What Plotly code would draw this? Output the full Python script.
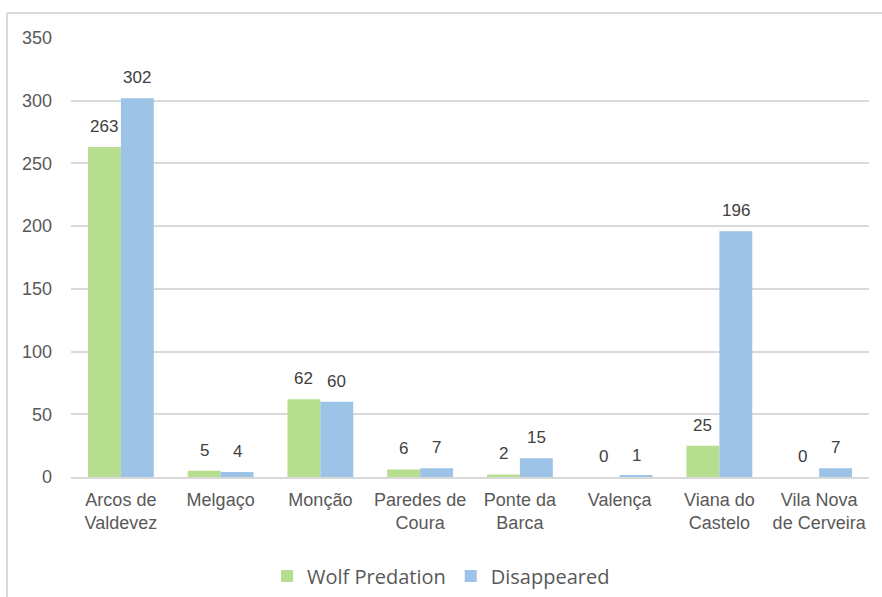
import plotly.graph_objects as go

categories = ["Arcos de<br>Valdevez", "Melgaço", "Monção", "Paredes de<br>Coura",
              "Ponte da<br>Barca", "Valença", "Viana do<br>Castelo", "Vila Nova<br>de Cerveira"]
wolf_predation = [263, 5, 62, 6, 2, 0, 25, 0]
disappeared = [302, 4, 60, 7, 15, 1, 196, 7]

W, H = 882, 597
L, R, T, B = 71, 13, 38, 120
green = "#B7DE8E"
blue = "#9DC3E6"
label_font = dict(family="Liberation Sans, Arial", size=17, color="#404040")

fig = go.Figure()
fig.add_trace(go.Bar(x=categories, y=wolf_predation, name="Wolf Predation",
                     marker=dict(color=green, line=dict(width=0))))
fig.add_trace(go.Bar(x=categories, y=disappeared, name="Disappeared",
                     marker=dict(color=blue, line=dict(width=0))))

plot_w = W - L - R
plot_h = H - T - B
shift = 0.165 * plot_w / len(categories)
annotations = []
for c, v in zip(categories, wolf_predation):
    annotations.append(dict(x=c, y=v, text=str(v), showarrow=False, xshift=-shift,
                            yanchor="bottom", yshift=9, font=label_font))
for c, v in zip(categories, disappeared):
    annotations.append(dict(x=c, y=v, text=str(v), showarrow=False, xshift=shift,
                            yanchor="bottom", yshift=9, font=label_font))

fig.update_layout(
    width=W, height=H,
    margin=dict(l=L, r=R, t=T, b=B, pad=0, autoexpand=False),
    paper_bgcolor="white", plot_bgcolor="white",
    barmode="group", bargap=0.34, bargroupgap=0,
    font=dict(family="Liberation Sans, Arial", size=18, color="#595959"),
    xaxis=dict(showgrid=False, showline=True, linecolor="#D9D9D9", linewidth=2,
               ticks="", tickfont=dict(size=18, color="#595959"), fixedrange=True,
               automargin=False, ticklabelstandoff=5),
    yaxis=dict(range=[0, 350], dtick=50, showgrid=True, gridcolor="#D9D9D9", gridwidth=2,
               zeroline=False, showline=False, ticks="", ticklabelstandoff=18,
               tickfont=dict(size=18, color="#595959"), automargin=False),
    legend=dict(orientation="h", x=0.5, xanchor="center", xref="container",
                y=1 - 576 / H, yref="container", yanchor="middle",
                font=dict(family="Open Sans, Liberation Sans", size=20, color="#595959"),
                itemwidth=30),
    annotations=annotations,
    shapes=[
        dict(type="line", xref="paper", yref="paper",
             x0=(7 - L) / plot_w, x1=(W + 10 - L) / plot_w,
             y0=(H - B - 13) / plot_h, y1=(H - B - 13) / plot_h,
             line=dict(color="#D9D9D9", width=2)),
        dict(type="line", xref="paper", yref="paper",
             x0=(7 - L) / plot_w, x1=(7 - L) / plot_w,
             y0=(H - B - 13) / plot_h, y1=-(B + 10) / plot_h,
             line=dict(color="#D9D9D9", width=2)),
    ],
)
fig.write_html("out.html")
